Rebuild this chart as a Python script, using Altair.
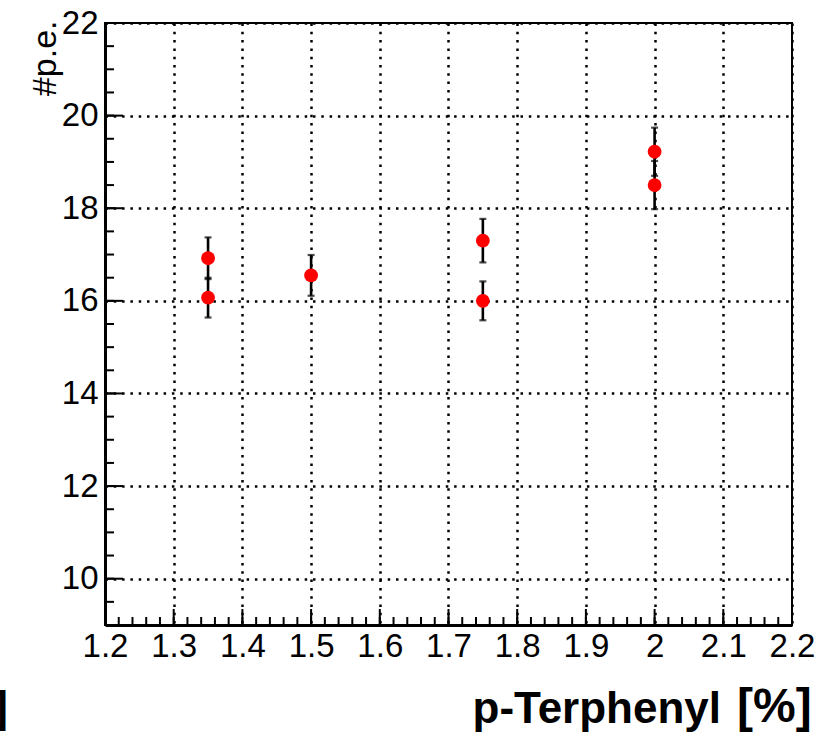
import altair as alt
import pandas as pd

# ---- data ----
x_vals = [1.35, 1.35, 1.5, 1.75, 1.75, 2.0, 2.0]
y_vals = [16.92, 16.07, 16.55, 17.30, 16.00, 19.22, 18.50]
y_err = [0.45, 0.43, 0.44, 0.47, 0.42, 0.52, 0.52]

x_labels = [1.2, 1.3, 1.4, 1.5, 1.6, 1.7, 1.8, 1.9, 2.0, 2.1, 2.2]
y_labels = [10, 12, 14, 16, 18, 20, 22]
x_minor = [round(1.2 + 0.02 * i, 2) for i in range(51)]
y_minor = [9 + 0.5 * i for i in range(27)]

W, H = 687, 602
FONT = "Liberation Sans"
TSIZE = 44

df = pd.DataFrame({"x": x_vals, "y": y_vals, "err": y_err})
df["lo"] = df["y"] - df["err"]
df["hi"] = df["y"] + df["err"]

xs = alt.Scale(domain=[1.2, 2.2], nice=False, zero=False)
ys = alt.Scale(domain=[9, 22], nice=False, zero=False)

x_axis = alt.Axis(
    values=x_labels, format=".1~f", grid=True, gridColor="black",
    gridDash=[2.5, 5.8], gridWidth=2.5, gridOpacity=1,
    ticks=False, tickSize=0, domain=True, domainColor="black", domainWidth=3,
    labelFont=FONT, labelFontSize=33, labelColor="black", labelPadding=5,
    labelOverlap=False, labelFlush=False, labelBound=False,
    title="p-Terphenyl", titleFont=FONT, titleFontSize=TSIZE,
    titleFontWeight="bold", titleColor="black", titleAlign="left",
    titleBaseline="alphabetic", titleX=367, titleY=97, titleAnchor="start",
)
y_axis = alt.Axis(
    values=y_labels, format="d", grid=True, gridColor="black",
    gridDash=[2.5, 5.8], gridWidth=2.5, gridOpacity=1,
    ticks=False, tickSize=0, domain=True, domainColor="black", domainWidth=3,
    labelFont=FONT, labelFontSize=33, labelColor="black", labelPadding=7,
    labelOverlap=False, labelFlush=False, labelBound=False,
    title="#p.e.", titleFont=FONT, titleFontSize=34, titleFontWeight="normal",
    titleColor="black", titleAngle=270, titleAlign="right",
    titleBaseline="alphabetic", titleX=-50, titleY=-3,
)


def X(field):
    return alt.X(field, scale=xs, axis=x_axis)


def Y(field):
    return alt.Y(field, scale=ys, axis=y_axis)


points = alt.Chart(df).mark_circle(color="#ff0000", opacity=1, size=190).encode(
    x=X("x:Q"), y=Y("y:Q"),
)

bars = alt.Chart(df).mark_rule(color="black", strokeWidth=2.6).encode(
    x=X("x:Q"), y=Y("lo:Q"), y2="hi:Q",
)
caps_lo = alt.Chart(df).mark_tick(color="black", orient="horizontal", size=7, thickness=2.2).encode(
    x=X("x:Q"), y=Y("lo:Q"),
)
caps_hi = alt.Chart(df).mark_tick(color="black", orient="horizontal", size=7, thickness=2.2).encode(
    x=X("x:Q"), y=Y("hi:Q"),
)

xmaj = alt.Chart(pd.DataFrame({"v": x_labels})).mark_rule(color="black", strokeWidth=2).encode(
    x=X("v:Q"), y=alt.value(H), y2=alt.value(H - 16)
)
xmin = alt.Chart(pd.DataFrame({"v": x_minor})).mark_rule(color="black", strokeWidth=2).encode(
    x=X("v:Q"), y=alt.value(H), y2=alt.value(H - 8)
)
ymaj = alt.Chart(pd.DataFrame({"v": y_labels})).mark_rule(color="black", strokeWidth=2).encode(
    y=Y("v:Q"), x=alt.value(0), x2=alt.value(18)
)
ymin = alt.Chart(pd.DataFrame({"v": y_minor})).mark_rule(color="black", strokeWidth=2).encode(
    y=Y("v:Q"), x=alt.value(0), x2=alt.value(9)
)

# unit part of the x title, running off the right edge as in the reference
unit = alt.Chart(pd.DataFrame({"t": ["[%]"]})).mark_text(
    font=FONT, fontSize=TSIZE + 4, fontWeight="bold", color="black",
    align="left", baseline="alphabetic",
).encode(text="t:N", x=alt.value(632), y=alt.value(H + 97))

bracket = alt.Chart(pd.DataFrame({"t": ["]"]})).mark_text(
    font=FONT, fontSize=TSIZE, fontWeight="bold", color="black",
    align="right", baseline="alphabetic",
).encode(text="t:N", x=alt.value(-97), y=alt.value(H + 97))

chart = alt.layer(
    xmaj, xmin, ymaj, ymin, bars, caps_lo, caps_hi, points, unit, bracket
).properties(
    width=W, height=H,
    autosize=alt.AutoSizeParams(type="none"),
    padding={"left": 105, "top": 23, "right": 34, "bottom": 111},
    background="white",
).configure_view(stroke="black", strokeWidth=2)

chart.save("out.html", embed_options={"renderer": "svg", "actions": False})
